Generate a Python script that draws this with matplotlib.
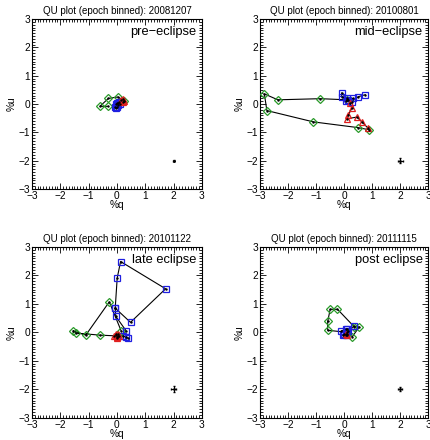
"""
QU plots (epoch binned) for four epochs of the eclipse
"""
import matplotlib
matplotlib.use('Agg')
import matplotlib.pyplot as plt
from matplotlib.ticker import MultipleLocator

plt.rcParams['font.family'] = ['Liberation Sans', 'DejaVu Sans']

# ============================================================================
# DATA
# ============================================================================
dates = ['20081207', '20100801', '20101122', '20111115']
labels = ['pre\u2212eclipse', 'mid\u2212eclipse', 'late eclipse', 'post eclipse']

green_q = [[-0.3, -0.6, -0.3, 0.03, 0.25, 0.05],
           [0.1, -0.85, -2.37, -2.85, -2.76, -1.1, 0.48, 0.9],
           [0.15, -0.27, -1.1, -1.55, -1.43, -0.6, 0.05],
           [0.1, -0.59, -0.59, -0.5, -0.24, 0.35, 0.54, 0.29, 0.1]]
green_u = [[-0.08, -0.08, 0.2, 0.25, 0.12, 0.05],
           [0.15, 0.19, 0.15, 0.36, -0.23, -0.63, -0.83, -0.91],
           [0.05, 1.07, -0.1, 0.05, -0.03, -0.1, -0.13],
           [0.0, 0.07, 0.38, 0.81, 0.81, 0.2, 0.19, -0.15, -0.05]]

blue_q = [[-0.08, -0.05, 0.0, 0.05, 0.02, -0.03, 0.08, 0.1],
          [0.75, 0.5, 0.27, 0.09, -0.09, -0.09, 0.15, 0.3, 0.05],
          [0.38, 0.32, 0.2, 0.32, -0.04, -0.06, 0.01, 0.13, 1.72, 0.48, -0.06],
          [0.35, 0.15, 0.05, -0.1, 0.0, 0.1, 0.05, -0.05]]
blue_u = [[-0.1, 0.0, -0.12, -0.05, 0.05, -0.15, 0.08, 0.0],
          [0.33, 0.26, 0.09, 0.2, 0.4, 0.26, 0.15, 0.2, 0.1],
          [-0.2, -0.17, -0.12, 0.06, 0.56, 0.85, 1.91, 2.49, 1.53, 0.35, 0.85],
          [0.22, 0.05, 0.1, 0.05, -0.05, 0.1, -0.1, -0.1]]

red_q = [[0.15, 0.22, 0.25, 0.2],
         [0.2, 0.27, 0.15, 0.1, 0.45, 0.62, 0.85],
         [-0.05, 0.0, 0.05, -0.1, 0.02, 0.08, -0.02],
         [0.1, 0.05]]
red_u = [[0.15, 0.18, 0.1, 0.08],
         [0.05, -0.15, -0.38, -0.52, -0.46, -0.62, -0.85],
         [-0.1, -0.15, -0.05, -0.12, -0.2, -0.12, -0.05],
         [-0.1, -0.05]]

# typical error bar shown at (2, -2)
err_size = [0.02, 0.08, 0.1, 0.07]

# ============================================================================
# PLOTTING
# ============================================================================
fig = plt.figure(figsize=(4.3, 4.4), dpi=100)
positions = [[0.0744, 0.5705, 0.395, 0.386],
             [0.605, 0.5705, 0.391, 0.386],
             [0.0744, 0.051, 0.395, 0.3876],
             [0.605, 0.051, 0.391, 0.3876]]

for i in range(4):
    ax = fig.add_axes(positions[i])
    for q, u, col, mk, ms in [(green_q[i], green_u[i], '#2a9a2a', 'D', 3.8),
                              (blue_q[i], blue_u[i], '#1f1fe0', 's', 4.8),
                              (red_q[i], red_u[i], '#e01f1f', '^', 4.6)]:
        ax.plot(q, u, color='black', lw=0.8, zorder=2)
        ax.plot(q, u, ls='none', marker=mk, ms=ms, mfc='none', mec=col, mew=0.9, zorder=3)
        ax.plot(q, u, ls='none', marker='.', ms=1.5, color='black', zorder=4)
    ax.errorbar([2], [-2], xerr=[err_size[i]], yerr=[err_size[i]], fmt='.', ms=2,
                color='black', elinewidth=0.8, capsize=0.8)

    ax.set_xlim(-3, 3)
    ax.set_ylim(-3, 3)
    ax.xaxis.set_major_locator(MultipleLocator(1))
    ax.yaxis.set_major_locator(MultipleLocator(1))
    ax.xaxis.set_minor_locator(MultipleLocator(0.1))
    ax.yaxis.set_minor_locator(MultipleLocator(0.1))
    ax.tick_params(which='both', direction='in', top=True, right=True,
                   labelsize=7.3, width=0.6, pad=1.5)
    ax.tick_params(which='major', length=4.5)
    ax.tick_params(which='minor', length=2)
    for s in ax.spines.values():
        s.set_linewidth(0.8)

    ax.set_xlabel('%q', fontsize=7.3, labelpad=-0.5)
    ax.set_ylabel('%u', fontsize=7.3, labelpad=1)
    ax.set_title(f'QU plot (epoch binned): {dates[i]}', fontsize=7, pad=3.5)
    ax.text(2.8, 2.55, labels[i], ha='right', va='center', fontsize=9.3)

fig.savefig('out.png', dpi=100)
